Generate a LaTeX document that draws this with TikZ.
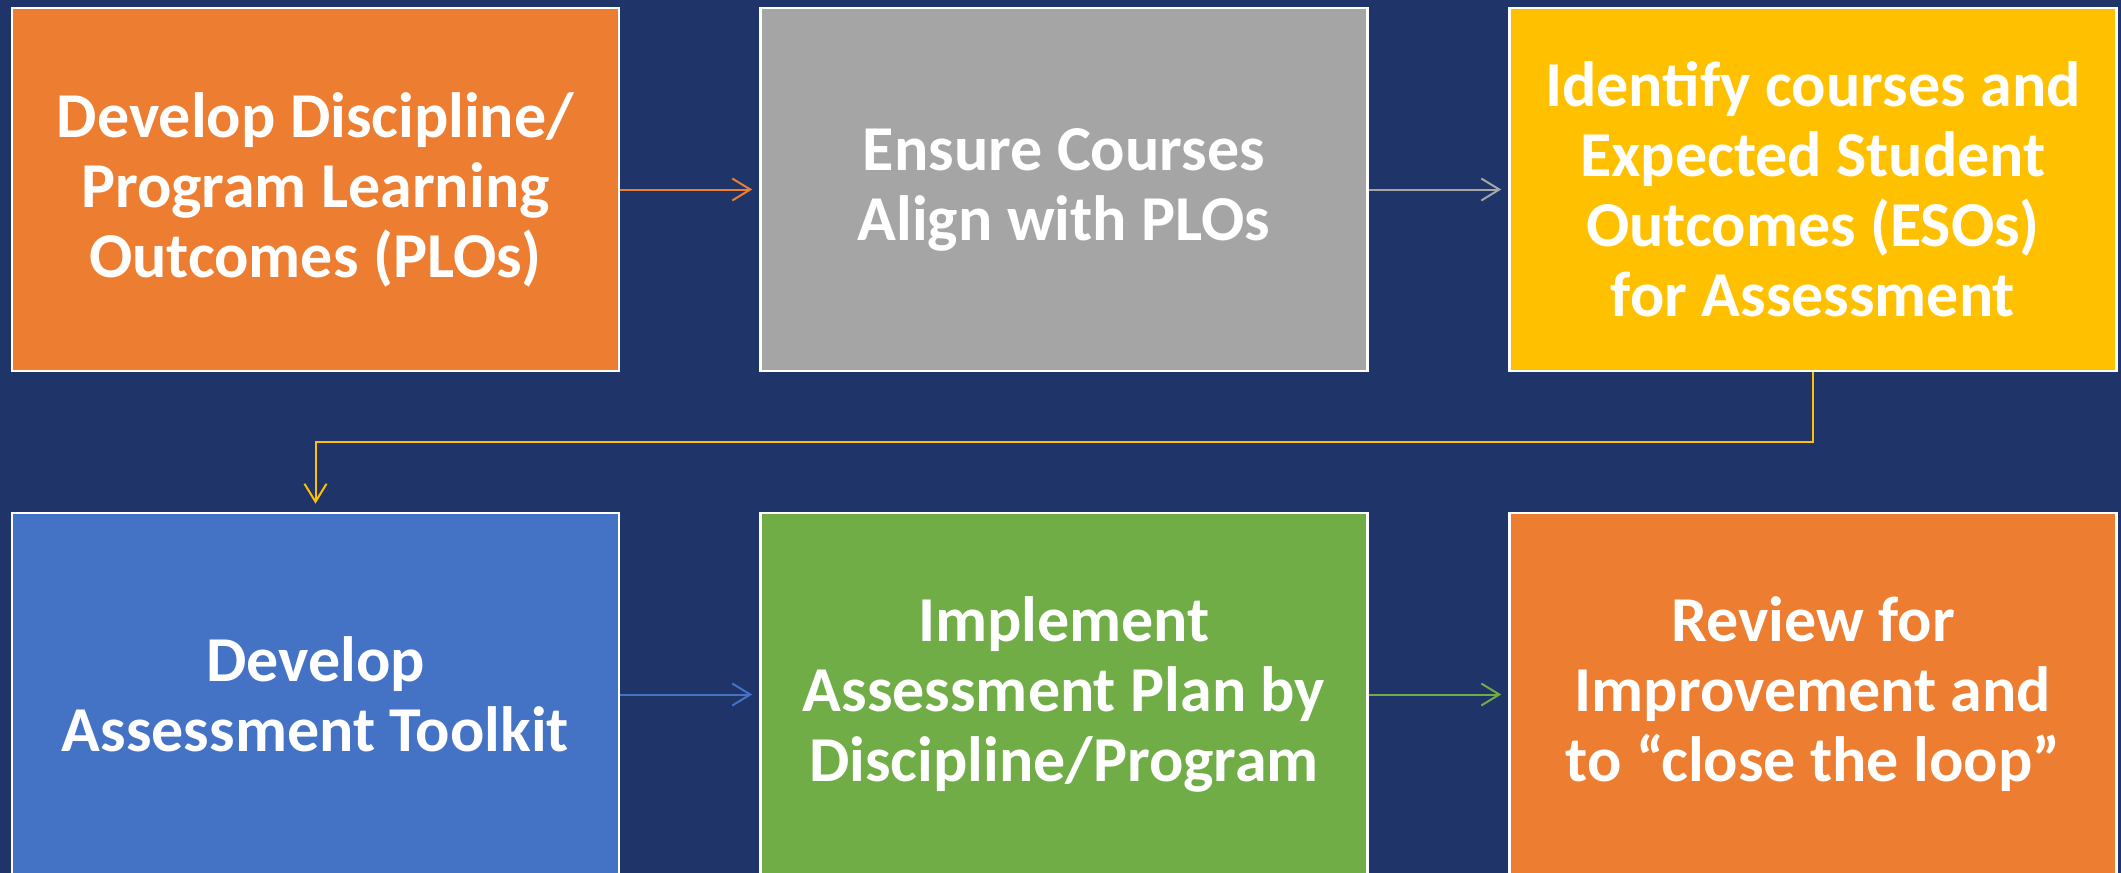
\documentclass[tikz,border=0pt]{standalone}
\usepackage{fontspec}
\setmainfont{Carlito}
\usetikzlibrary{arrows.meta}
\definecolor{navy}{HTML}{1F3569}
\definecolor{corange}{HTML}{ED7D31}
\definecolor{cgray}{HTML}{A5A5A5}
\definecolor{cyellow}{HTML}{FFC000}
\definecolor{cblue}{HTML}{4472C4}
\definecolor{cgreen}{HTML}{70AD47}
\tikzset{
  box/.style={draw=white, line width=1.3pt, minimum width=303.5pt, minimum height=181.5pt,
    inner sep=0pt, align=center, text=white, font=\bfseries\fontsize{32}{35}\selectfont},
  conn/.style={line width=1pt, -{Straight Barb[length=9pt,width=11pt,line width=1pt]}, shorten >=3.5pt}
}
\begin{document}
\begin{tikzpicture}[x=0.5pt,y=-0.5pt]
\fill[navy] (0,0) rectangle (2121,873);
\useasboundingbox (0,0) rectangle (2121,873);
\node[box, fill=corange] (b1) at (315.5,189.5) {Develop Discipline/\\Program Learning\\Outcomes (PLOs)};
\node[box, fill=cgray] (b2) at (1064,189.5) {Ensure Courses\\Align with PLOs};
\node[box, fill=cyellow] (b3) at (1813,189.5) {Identify courses and\\Expected Student\\Outcomes (ESOs)\\for Assessment};
\node[box, fill=cblue] (b4) at (315.5,694.5) {Develop\\Assessment Toolkit};
\node[box, fill=cgreen] (b5) at (1064,694.5) {Implement\\Assessment Plan by\\Discipline/Program};
\node[box, fill=corange] (b6) at (1813,694.5) {Review for\\Improvement and\\to “close the loop”};
\coordinate (elb) at (1813,442);
\draw[conn, corange] (b1.east) -- (b2.west);
\draw[conn, cgray] (b2.east) -- (b3.west);
\draw[conn, cyellow, shorten >=4pt] (b3.south) -- (elb) -| (b4.north);
\draw[conn, cblue] (b4.east) -- (b5.west);
\draw[conn, cgreen] (b5.east) -- (b6.west);
\end{tikzpicture}
\end{document}
